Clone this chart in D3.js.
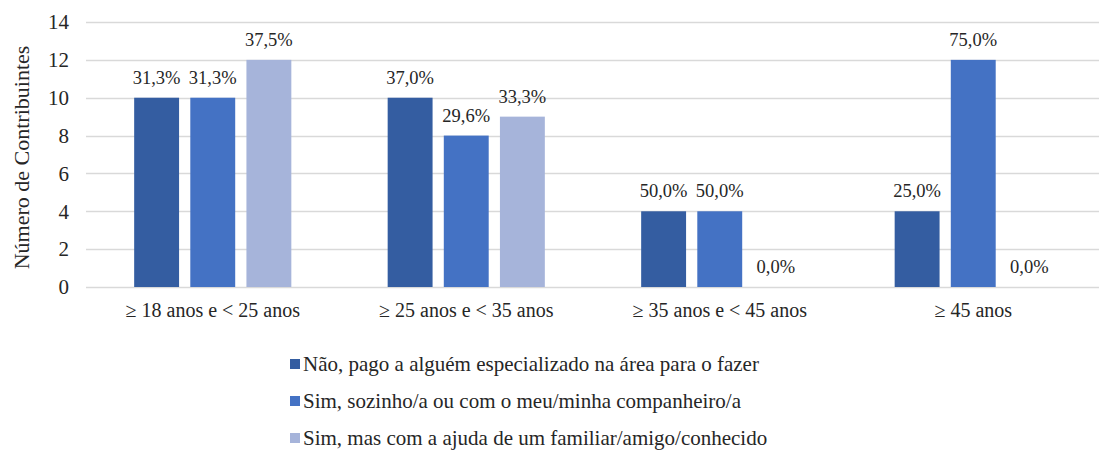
<!DOCTYPE html>
<html>
  <head>
    <script src="https://d3js.org/d3.v7.min.js"></script>
    <style>
      body { margin: 0; background: #fff; }
      svg text { font-family: "Liberation Serif", "Times New Roman", "DejaVu Serif", serif; fill: #262626; }
    </style>
  </head>
  <body>
    <div id="chart"></div>
    <script>
      const categories = ["≥ 18 anos e < 25 anos", "≥ 25 anos e < 35 anos", "≥ 35 anos e < 45 anos", "≥ 45 anos"];
      const seriesNames = [
        "Não, pago a alguém especializado na área para o fazer",
        "Sim, sozinho/a ou com o meu/minha companheiro/a",
        "Sim, mas com a ajuda de um familiar/amigo/conhecido",
      ];
      const seriesColors = ["#345da1", "#4472c4", "#a6b4da"];
      // counts per category for each series
      const naoValues = [10, 10, 4, 4];
      const sozinhoValues = [10, 8, 4, 12];
      const ajudaValues = [12, 9, 0, 0];
      const naoLabels = ["31,3%", "37,0%", "50,0%", "25,0%"];
      const sozinhoLabels = ["31,3%", "29,6%", "50,0%", "75,0%"];
      const ajudaLabels = ["37,5%", "33,3%", "0,0%", "0,0%"];
      const yTicks = [0, 2, 4, 6, 8, 10, 12, 14];

      const seriesValues = [naoValues, sozinhoValues, ajudaValues];
      const seriesLabels = [naoLabels, sozinhoLabels, ajudaLabels];

      const width = 1099, height = 455;
      const plot = { left: 86, right: 1100, top: 22, bottom: 287 };
      const serif = '"Liberation Serif", "Times New Roman", "DejaVu Serif", serif';

      const svg = d3.select("#chart").append("svg")
        .attr("width", width)
        .attr("height", height)
        .attr("font-family", serif);

      const x0 = d3.scaleBand()
        .domain(categories)
        .range([plot.left, plot.right])
        .paddingInner(0.38)
        .paddingOuter(0.19);

      const x1 = d3.scaleBand()
        .domain(d3.range(seriesNames.length))
        .range([0, x0.bandwidth()])
        .paddingInner(0.2)
        .paddingOuter(0);

      const y = d3.scaleLinear().domain([0, 14]).range([plot.bottom, plot.top]);

      // gridlines
      svg.append("g")
        .selectAll("line")
        .data(yTicks)
        .join("line")
        .attr("x1", plot.left)
        .attr("x2", plot.right)
        .attr("y1", (d) => Math.round(y(d)) + 0.5)
        .attr("y2", (d) => Math.round(y(d)) + 0.5)
        .attr("stroke", "#d9d9d9")
        .attr("stroke-width", 1.5);

      // Y axis
      const yAxis = svg.append("g")
        .attr("transform", `translate(${plot.left - 17},0)`)
        .call(d3.axisLeft(y).tickValues(yTicks).tickSize(0).tickPadding(0));
      yAxis.attr("font-family", serif);
      yAxis.select(".domain").remove();
      yAxis.selectAll("text")
        .style("font-size", "21px")
        .attr("fill", "#262626");

      // X axis labels
      const xAxis = svg.append("g")
        .attr("transform", `translate(0,${plot.bottom})`)
        .call(d3.axisBottom(x0).tickSize(0).tickPadding(16));
      xAxis.attr("font-family", serif);
      xAxis.select(".domain").remove();
      xAxis.selectAll("text")
        .style("font-size", "20px")
        .attr("fill", "#262626");

      // bars
      const rows = [];
      categories.forEach((c, ci) => {
        seriesValues.forEach((vals, si) => {
          rows.push({ cat: c, s: si, v: vals[ci], label: seriesLabels[si][ci] });
        });
      });

      svg.append("g")
        .selectAll("rect")
        .data(rows.filter((d) => d.v > 0))
        .join("rect")
        .attr("x", (d) => x0(d.cat) + x1(d.s))
        .attr("y", (d) => y(d.v))
        .attr("width", x1.bandwidth())
        .attr("height", (d) => y(0) - y(d.v))
        .attr("fill", (d) => seriesColors[d.s]);

      // data labels
      svg.append("g")
        .selectAll("text")
        .data(rows)
        .join("text")
        .attr("x", (d) => x0(d.cat) + x1(d.s) + x1.bandwidth() / 2)
        .attr("y", (d) => y(d.v) - 14)
        .attr("text-anchor", "middle")
        .style("font-size", "18.5px")
        .text((d) => d.label);

      // Y axis title
      svg.append("text")
        .attr("transform", `translate(29,${(plot.top + plot.bottom) / 2 + 3}) rotate(-90)`)
        .attr("text-anchor", "middle")
        .style("font-size", "22px")
        .text("Número de Contribuintes");

      // legend
      const legend = svg.append("g")
        .selectAll("g")
        .data(seriesNames)
        .join("g")
        .attr("transform", (d, i) => `translate(290,${365 + i * 37})`);
      legend.append("rect")
        .attr("x", 0)
        .attr("y", -6)
        .attr("width", 10)
        .attr("height", 10)
        .attr("fill", (d, i) => seriesColors[i]);
      legend.append("text")
        .attr("x", 13)
        .attr("y", 6)
        .style("font-size", "21px")
        .text((d) => d);
    </script>
  </body>
</html>
